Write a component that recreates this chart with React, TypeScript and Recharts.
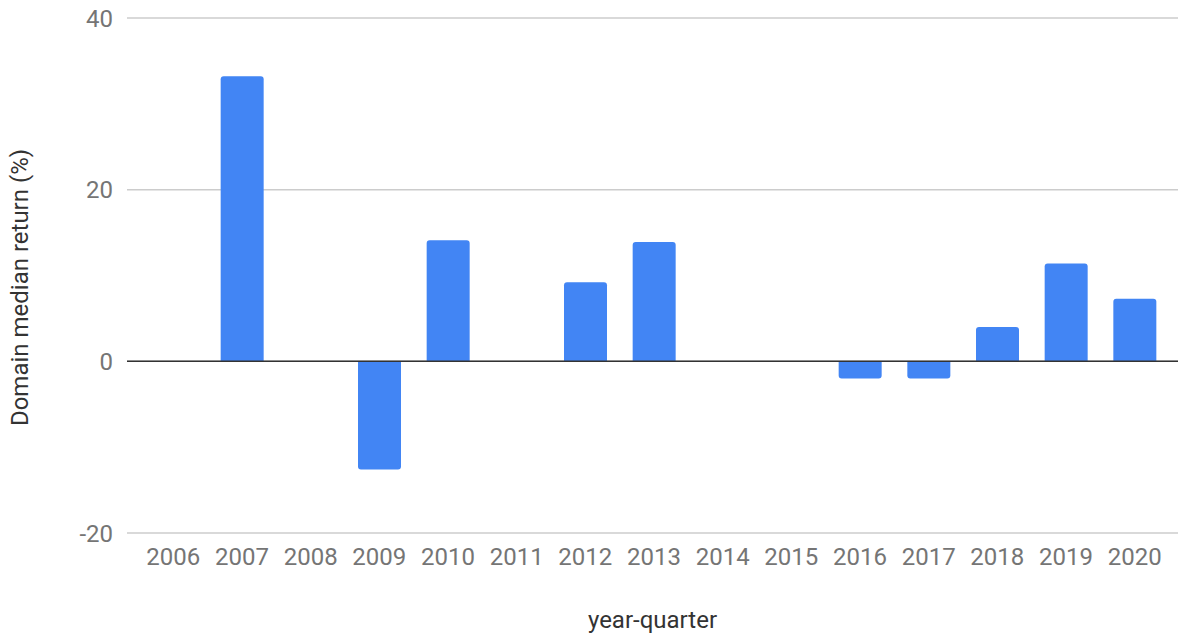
import { BarChart, Bar, XAxis, YAxis, CartesianGrid, ReferenceLine } from 'recharts'

const years = ['2006', '2007', '2008', '2009', '2010', '2011', '2012', '2013', '2014', '2015', '2016', '2017', '2018', '2019', '2020']
const medianReturn = [0, 33.2, 0, -12.6, 14.1, 0, 9.2, 13.9, 0, 0, -2.0, -2.0, 4.0, 11.4, 7.3]
const yTicks = [-20, 0, 20, 40]

const data = years.map((year, i) => ({ year, value: medianReturn[i] }))

const FONT = 'Roboto, "Noto Sans", sans-serif'

// vertical axis title, a bit below the plot's middle like the original
function YTitle({ viewBox }: any) {
  const x = viewBox.x + 20
  const y = viewBox.y + viewBox.height / 2 + 12
  return (
    <text
      x={x}
      y={y}
      transform={`rotate(-90, ${x}, ${y})`}
      textAnchor="middle"
      dominantBaseline="central"
      fill="#333333"
      fontSize={24}
      fontFamily={FONT}
    >
      Domain median return (%)
    </text>
  )
}

export default function App() {
  return (
    <div style={{ position: 'absolute', left: 0, top: 0, fontFamily: FONT }}>
      <BarChart
        width={1178}
        height={636}
        data={data}
        margin={{ top: 18, right: 0, left: 0, bottom: 0 }}
      >
        <CartesianGrid vertical={false} stroke="#cccccc" strokeWidth={1.5} />
        <XAxis
          dataKey="year"
          axisLine={false}
          tickLine={false}
          tickSize={0}
          tickMargin={15}
          height={103}
          padding={{ left: 12, right: 9 }}
          tick={{ fill: '#757575', fontSize: 24, fontFamily: FONT }}
          interval={0}
          label={{
            value: 'year-quarter',
            position: 'insideBottom',
            offset: 8,
            fill: '#333333',
            fontSize: 24,
            fontFamily: FONT,
          }}
        />
        <YAxis
          domain={[-20, 40]}
          ticks={yTicks}
          width={127}
          axisLine={false}
          tickLine={false}
          tickSize={0}
          tickMargin={14}
          tick={{ fill: '#757575', fontSize: 24, fontFamily: FONT }}
          label={<YTitle />}
        />
        <ReferenceLine y={0} stroke="#333333" strokeWidth={1.5} />
        <Bar dataKey="value" fill="#4285f4" barSize={43} radius={[3, 3, 0, 0]} isAnimationActive={false} />
      </BarChart>
    </div>
  )
}
